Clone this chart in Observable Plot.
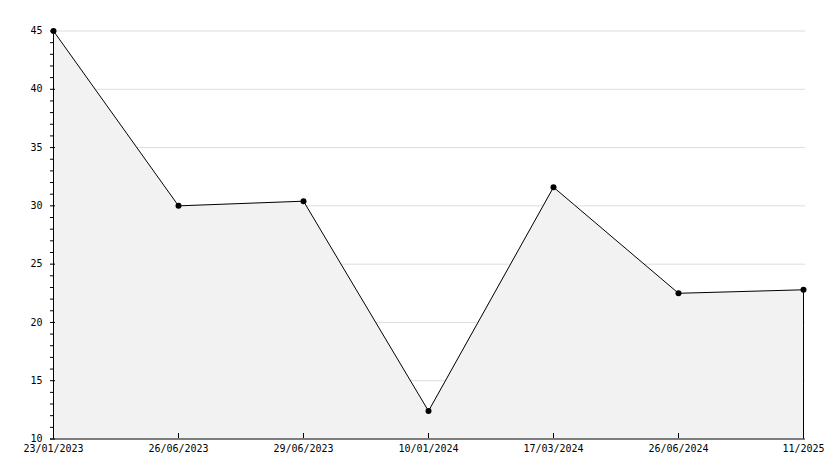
<!DOCTYPE html>
<html><head><meta charset="utf-8">
<script src="https://cdn.jsdelivr.net/npm/d3@7"></script>
<script src="https://cdn.jsdelivr.net/npm/@observablehq/plot@0.6"></script>
<style>body{margin:0;background:#fff}</style></head>
<body><div id="chart"></div>
<script>
const dates = ["23/01/2023","26/06/2023","29/06/2023","10/01/2024","17/03/2024","26/06/2024","11/2025"];
const values = [45, 30, 30.4, 12.4, 31.6, 22.5, 22.8];
const yTicks = [10, 15, 20, 25, 30, 35, 40, 45];
const yMinor = [11,12,13,14,16,17,18,19,21,22,23,24,26,27,28,29,31,32,33,34,36,37,38,39,41,42,43,44];

const data = dates.map((d, i) => ({date: d, value: values[i]}));
const last = data[data.length - 1];

const chart = Plot.plot({
  width: 834,
  height: 468,
  marginLeft: 50,
  marginRight: 29,
  marginTop: 30,
  marginBottom: 30,
  style: {fontFamily: "'DejaVu Sans Mono', monospace", fontSize: "10px", color: "#000", background: "#fff"},
  x: {type: "point", domain: dates, padding: 0, range: [50.5, 805.5], label: null},
  y: {domain: [10, 45], range: [438.5, 30.5], label: null},
  marks: [
    Plot.gridY(yTicks.slice(1), {stroke: "#dcdcdc", strokeOpacity: 1}),
    Plot.areaY(data, {x: "date", y1: 10, y2: "value", fill: "#f2f2f2"}),
    Plot.ruleX([last], {x: "date", y1: 10, y2: "value", stroke: "#000"}),
    Plot.lineY(data, {x: "date", y: "value", stroke: "#000", strokeWidth: 1}),
    Plot.dot(data, {x: "date", y: "value", r: 3, fill: "#000", symbol: "circle"}),
    Plot.ruleY([10], {stroke: "#000"}),
    Plot.ruleX([dates[0]], {y1: 10, y2: 45, stroke: "#000"}),
    Plot.axisY(yTicks, {tickSize: 0, tickPadding: 8, fontSize: 10}),
    Plot.axisY(yTicks, {tickSize: -5, text: null}),
    Plot.axisY(yMinor, {tickSize: -3, text: null}),
    Plot.axisX(dates, {tickSize: 0, tickPadding: 6, fontSize: 10}),
    Plot.axisX(dates, {tickSize: -5, text: null})
  ]
});
document.getElementById("chart").appendChild(chart);
</script>
</body></html>
